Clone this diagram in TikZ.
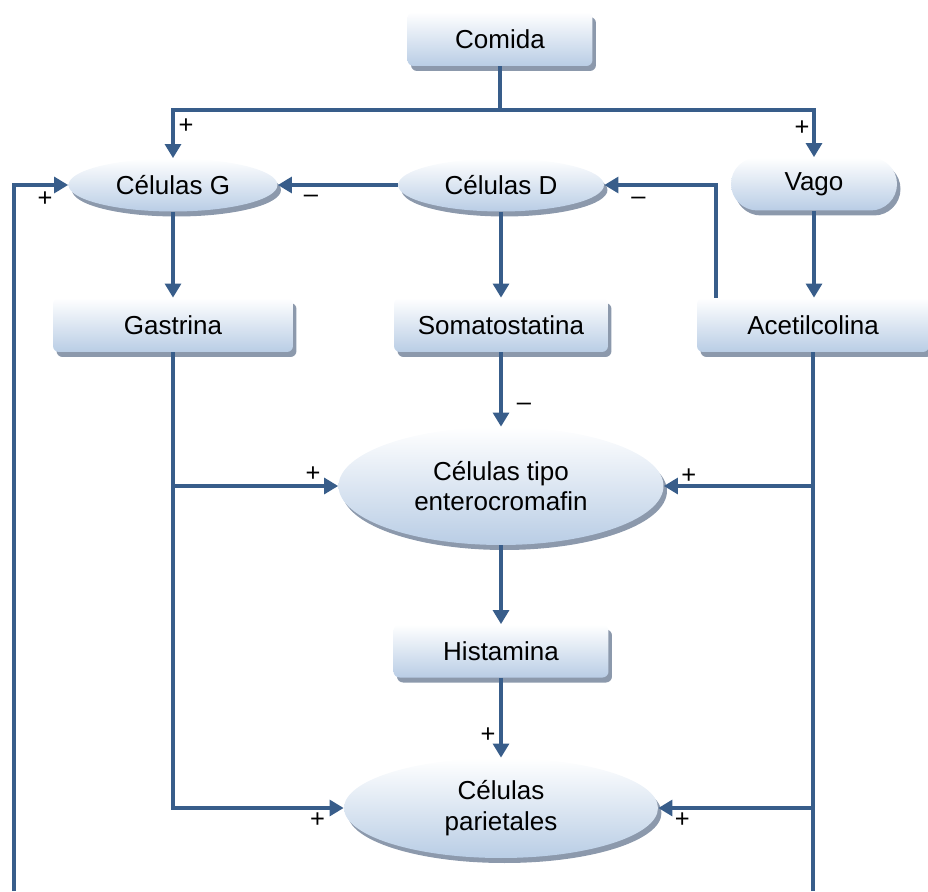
\documentclass[tikz,border=0pt]{standalone}
\usepackage{fontspec}
\setmainfont{Liberation Sans}
\usetikzlibrary{arrows.meta, positioning, shapes, shadows}
\definecolor{linkblue}{RGB}{56,93,138}
\definecolor{cellfill}{RGB}{185,205,229}
\definecolor{shadowgray}{RGB}{140,153,172}
\tikzset{
  cell/.style={top color=white, bottom color=cellfill, inner sep=0pt, align=center,
    drop shadow={shadow xshift=0.07cm, shadow yshift=-0.1cm, fill=shadowgray, opacity=1}},
  box/.style={cell, rectangle, rounded corners=0.12cm, minimum height=1.08cm},
  cellgroup/.style={cell, ellipse},
  pill/.style={cell, rectangle, rounded corners=0.53cm, minimum height=1.06cm},
  link/.style={-{Triangle[length=8pt, width=9pt]}, line width=2.2pt, linkblue},
  wire/.style={line width=2.2pt, linkblue},
  sign/.style={font=\fontsize{14.5}{16}\selectfont, text=black, inner sep=0pt},
}

\begin{document}
\begin{tikzpicture}[x=0.02cm, y=-0.02cm, font=\fontsize{14.8}{17.5}\selectfont]
  \useasboundingbox (0,0) rectangle (928,891);

  % cells and messengers
  \node[box, minimum width=3.7cm] (comida) at (500,39) {Comida};
  \node[cellgroup, minimum width=4.18cm, minimum height=1.06cm] (celg) at (173,185) {Células G};
  \node[cellgroup, minimum width=4.12cm, minimum height=1.06cm] (celd) at (501,185) {Células D};
  \node[pill, minimum width=3.32cm] (vago) at (814,184) {Vago};
  \node[box, minimum width=4.8cm] (gastrina) at (173,325) {Gastrina};
  \node[box, minimum width=4.28cm] (somato) at (501,325) {Somatostatina};
  \node[box, minimum width=4.64cm] (acetil) at (813,325) {Acetilcolina};
  \node[cellgroup, minimum width=6.5cm, minimum height=2.36cm] (entero) at (501,486) {Células tipo\\enterocromafin};
  \node[box, minimum width=4.3cm, minimum height=1.06cm] (histamina) at (501,651) {Histamina};
  \node[cellgroup, minimum width=6.28cm, minimum height=2.0cm] (parie) at (501,808) {Células\\parietales};

  \coordinate (loopend) at (14,891);

  % food
  \draw[link] (comida.south) -- ++(0,44) -| node[sign, pos=1, shift={(13,-32)}] {+} (celg.north);
  \draw[link] (comida.south) -- ++(0,44) -| node[sign, pos=1, shift={(-12,-29)}] {+} (vago.north);

  % row 1
  \draw[link] (celd.west) -- node[sign, pos=1, shift={(33,14)}] {–} (celg.east);
  \draw[link] (loopend) |- node[sign, pos=1, shift={(-23,14)}] {+} (celg.west);
  \draw[link] ([xshift=0.38cm]acetil.north west) |- node[sign, pos=1, shift={(34,16)}] {–} (celd.east);
  \draw[link] (celg.south) -- (celg.south |- gastrina.north);
  \draw[link] (celd.south) -- (celd.south |- somato.north);
  \draw[link] (vago.south) -- (vago.south |- acetil.north);

  % row 2
  \draw[link] (somato.south) -- node[sign, pos=1, shift={(23,-20)}] {–} (entero.north);
  \draw[link] (gastrina.south) |- node[sign, pos=1, shift={(-26,12)}] {+} (parie.west);
  \draw[link] (gastrina.south |- entero.west) -- node[sign, pos=1, shift={(-25,-12)}] {+} (entero.west);
  \draw[wire] (acetil.south) -- (acetil.south |- loopend);
  \draw[link] (acetil.south |- entero.east) -- node[sign, pos=1, shift={(25,-10)}] {+} (entero.east);
  \draw[link] (acetil.south |- parie.east) -- node[sign, pos=1, shift={(24,12)}] {+} (parie.east);

  % histamine
  \draw[link] (entero.south) -- (histamina.north);
  \draw[link] (histamina.south) -- node[sign, pos=1, shift={(-13,-23)}] {+} (parie.north);
\end{tikzpicture}
\end{document}
